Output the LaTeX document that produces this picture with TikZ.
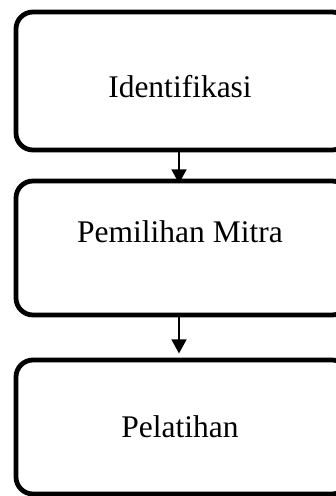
\documentclass[tikz,border=0pt]{standalone}
\usepackage{fontspec}
\setmainfont{Liberation Serif}
\usetikzlibrary{arrows.meta}
\begin{document}
\begin{tikzpicture}[x=1pt,y=1pt,
  box/.style={draw=black, line width=4.8pt, rounded corners=17pt, minimum width=333pt, inner sep=0pt, outer sep=0pt, fill=white},
  lbl/.style={font=\fontsize{31.5}{36}\selectfont, inner sep=0pt, anchor=base},
  arr/.style={line width=1.5pt, -{Triangle[width=15pt,length=14pt]}}]
\useasboundingbox (0,0) rectangle (336,-496);
\clip (0,0) rectangle (336,-496);
\node[box, minimum height=138pt] (b1) at (182.5,-81) {};
\node[box, minimum height=134pt] (b2) at (182.5,-248) {};
\node[box, minimum height=134pt] (b3) at (182.5,-427) {};
\node[lbl] (t1) at (180,-97) {Identifikasi};
\node[lbl] (t2) at (180,-242) {Pemilihan Mitra};
\node[lbl] (t3) at (180,-437) {Pelatihan};
\draw[arr] ([xshift=-3.5pt,yshift=2.4pt]b1.south) -- ([xshift=-3.5pt,yshift=-2.4pt]b2.north);
\draw[arr, shorten >=9pt] ([xshift=-3.5pt,yshift=2.4pt]b2.south) -- ([xshift=-3.5pt,yshift=-2.4pt]b3.north);
\end{tikzpicture}
\end{document}
